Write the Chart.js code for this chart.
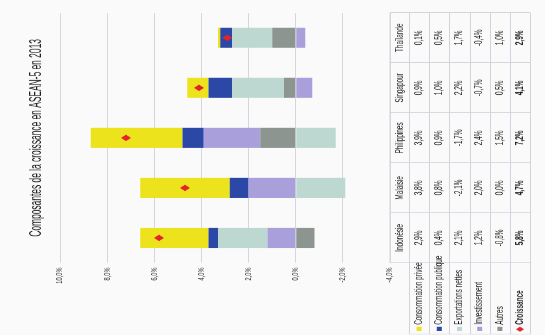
<!DOCTYPE html>
<html>
<head>
<meta charset="utf-8">
<script src="https://cdn.jsdelivr.net/npm/chart.js@4.4.0/dist/chart.umd.min.js"></script>
<style>
  html, body { margin: 0; padding: 0; background: #fafafb; overflow: hidden; }
  /* the chart is laid out upright, then turned a quarter to the left */
  #wrap {
    position: absolute; left: 0; top: 0; width: 523px; height: 545px;
    transform-origin: 0 0;
    transform: translate(0px, 335px) rotate(-90deg) scaleX(0.6405);
  }
</style>
</head>
<body>
<div id="wrap"><canvas id="chart" width="523" height="545"></canvas></div>
<script>
const categories = ["Indonésie", "Malaisie", "Philippines", "Singapour", "Thaïlande"];

const consoPrivee    = [2.9, 3.8, 3.9, 0.9, 0.1];
const consoPublique  = [0.4, 0.8, 0.9, 1.0, 0.5];
const exportsNettes  = [2.1, -2.1, -1.7, 2.2, 1.7];
const investissement = [1.2, 2.0, 2.4, -0.7, -0.4];
const autres         = [-0.8, 0.0, 1.5, 0.5, 1.0];
const croissance     = [5.8, 4.7, 7.2, 4.1, 2.9];

const tickValues = [10, 8, 6, 4, 2, 0, -2, -4];

const titleText = "Composantes de la croissance en ASEAN-5 en 2013";

const series = [
  { label: "Consommation privée",   data: consoPrivee,    color: "#ece31c" },
  { label: "Consommation publique", data: consoPublique,  color: "#2c48a7" },
  { label: "Exportations nettes",   data: exportsNettes,  color: "#bcd8d1" },
  { label: "Investissement",        data: investissement, color: "#a99fda" },
  { label: "Autres",                data: autres,         color: "#8d9591" },
];
const growth = { label: "Croissance", data: croissance, color: "#e3232a" };

const pct = v => v.toFixed(1).replace(".", ",") + "%";

// narrow title, drawn squeezed since no condensed face is installed
const narrowTitle = {
  id: "narrowTitle",
  afterDraw(chart) {
    const { ctx, chartArea: a } = chart;
    ctx.save();
    ctx.translate((a.left + a.right) / 2, 37);
    ctx.scale(0.82, 1);
    ctx.font = '16px "Liberation Sans", Arial, sans-serif';
    ctx.fillStyle = "#222";
    ctx.textAlign = "center";
    ctx.textBaseline = "middle";
    ctx.fillText(titleText, 0, 0);
    ctx.restore();
  }
};

// data table under the plot, one column per country, legend keys on the left
const dataTable = {
  id: "dataTable",
  afterDraw(chart) {
    const { ctx, chartArea: a } = chart;
    const colW = (a.right - a.left) / categories.length;
    const top = a.bottom;
    const headH = 19;
    const rowH = 20.2;
    const rows = series.concat([growth]);
    const bottom = top + headH + rows.length * rowH;

    ctx.save();
    ctx.strokeStyle = "#d5d2de";
    ctx.lineWidth = 1;
    ctx.beginPath();
    ctx.moveTo(a.left, top);
    ctx.lineTo(a.right, top);
    for (let r = 0; r <= rows.length; r++) {
      const y = Math.round(top + headH + r * rowH) + 0.5;
      ctx.moveTo(1, y);
      ctx.lineTo(a.right, y);
    }
    for (let c = 0; c <= categories.length; c++) {
      const x = Math.round(a.left + c * colW) + 0.5;
      ctx.moveTo(x, top);
      ctx.lineTo(x, bottom);
    }
    ctx.moveTo(1.5, top + headH);
    ctx.lineTo(1.5, bottom);
    ctx.stroke();

    ctx.fillStyle = "#222";
    ctx.textBaseline = "middle";
    ctx.textAlign = "center";
    ctx.font = '10px "Liberation Sans", Arial, sans-serif';
    categories.forEach((name, c) => {
      ctx.fillText(name, a.left + (c + 0.5) * colW, top + headH / 2 + 0.5);
    });

    rows.forEach((s, r) => {
      const cy = top + headH + (r + 0.5) * rowH;
      const bold = s === growth ? "bold " : "";
      ctx.font = bold + '10px "Liberation Sans", Arial, sans-serif';
      ctx.fillStyle = "#222";
      ctx.textAlign = "center";
      s.data.forEach((v, c) => {
        ctx.fillText(pct(v), a.left + (c + 0.5) * colW, cy);
      });
      // legend key
      ctx.fillStyle = s.color;
      if (s === growth) {
        ctx.beginPath();
        ctx.moveTo(9, cy - 4);
        ctx.lineTo(13, cy);
        ctx.lineTo(9, cy + 4);
        ctx.lineTo(5, cy);
        ctx.closePath();
        ctx.fill();
      } else {
        ctx.fillRect(6, cy - 2.5, 7, 5);
      }
      ctx.fillStyle = "#222";
      ctx.textAlign = "left";
      ctx.fillText(s.label, 16, cy);
    });
    ctx.restore();
  }
};

const datasets = series.slice().reverse().map(s => ({
  type: "bar",
  label: s.label,
  data: s.data,
  backgroundColor: s.color,
  borderWidth: 0,
  stack: "composantes",
  order: 1,
  categoryPercentage: 1,
  barPercentage: 0.4,
}));
datasets.push({
  type: "line",
  label: growth.label,
  data: growth.data,
  showLine: false,
  pointStyle: "rectRot",
  pointRadius: 5,
  backgroundColor: growth.color,
  borderColor: growth.color,
  borderWidth: 0,
  stack: "croissance",
  order: 0,
});

new Chart(document.getElementById("chart"), {
  data: { labels: categories, datasets },
  options: {
    responsive: false,
    animation: false,
    layout: { padding: { top: 60, right: 20, bottom: 155, left: 0 } },
    plugins: {
      legend: { display: false },
      tooltip: { enabled: false },
      title: { display: false },
    },
    scales: {
      x: { display: false, stacked: true },
      y: {
        stacked: true,
        min: -4,
        max: 10,
        afterBuildTicks: s => { s.ticks = tickValues.map(v => ({ value: v })); },
        afterFit: s => { s.width = 112.5; },
        grid: { color: "#d6d7dc", lineWidth: 1, drawTicks: false },
        border: { display: false },
        ticks: {
          padding: 7,
          color: "#333",
          font: { family: '"Liberation Sans", Arial, sans-serif', size: 9 },
          callback: v => pct(v),
        },
      },
    },
  },
  plugins: [narrowTitle, dataTable],
});
</script>
</body>
</html>
